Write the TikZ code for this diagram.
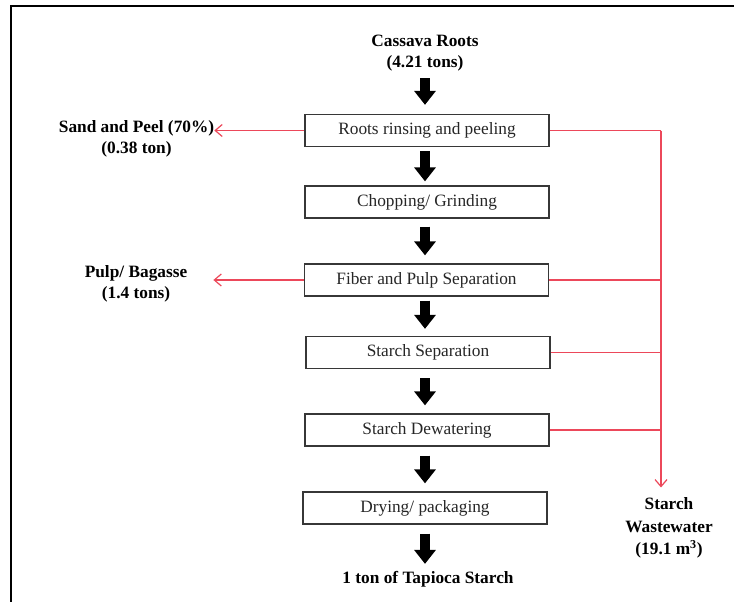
\documentclass[tikz,border=0pt]{standalone}
\usepackage{fontspec}
\setmainfont{Liberation Serif}
\usetikzlibrary{arrows.meta}
\definecolor{redline}{RGB}{236,72,90}
\definecolor{boxline}{RGB}{55,55,55}
\begin{document}
\begin{tikzpicture}[x=1pt,y=-1pt,
  stepbox/.style={draw=boxline, line width=1.3pt, minimum width=244pt, minimum height=32pt, inner sep=0pt, font=\fontsize{17.3}{20}\selectfont, text=black!85},
  lbl/.style={font=\bfseries\fontsize{17.3}{21}\selectfont, align=center, inner sep=0pt},
  blk/.style={line width=10pt, -{Triangle[width=21pt,length=14pt]}},
  waste/.style={draw=redline, line width=1.2pt},
  wastearrow/.style={waste, -{Straight Barb[length=7pt,width=12pt]}}]
\useasboundingbox (0,0) rectangle (734,602);
\fill[white] (0,0) rectangle (734,602);
% frame
\draw[line width=2pt] (11,602) -- (11,6) -- (734,6);
\coordinate (ax) at (425,0);
\coordinate (wx) at (661,0);
% labels
\node[lbl] (cr) at (425,53) {Cassava Roots\\(4.21 tons)};
\node[lbl] (sp) at (136.5,139) {Sand and Peel (70\%)\\(0.38 ton)};
\node[lbl] (pb) at (136,284) {Pulp/ Bagasse\\(1.4 tons)};
\node[lbl, font=\bfseries\fontsize{17.3}{22.5}\selectfont] (sw) at (669,528) {Starch\\Wastewater\\(19.1 m\textsuperscript{3})};
\node[lbl] (ts) at (428,579) {1 ton of Tapioca Starch};
% process boxes
\node[stepbox] (b1) at (427,130.5) {Roots rinsing and peeling};
\node[stepbox] (b2) at (427,202) {Chopping/ Grinding};
\node[stepbox] (b3) at (426.5,280) {Fiber and Pulp Separation};
\node[stepbox] (b4) at (428,352.5) {Starch Separation};
\node[stepbox] (b5) at (427,430) {Starch Dewatering};
\node[stepbox] (b6) at (425,508) {Drying/ packaging};
% main flow arrows
\draw[blk, shorten <=7pt, shorten >=9pt] (cr.south -| ax) -- (b1.north -| ax);
\draw[blk, shorten <=4pt, shorten >=4pt] (b1.south -| ax) -- (b2.north -| ax);
\draw[blk, shorten <=8pt, shorten >=8pt] (b2.south -| ax) -- (b3.north -| ax);
\draw[blk, shorten <=4pt, shorten >=7pt] (b3.south -| ax) -- (b4.north -| ax);
\draw[blk, shorten <=9pt, shorten >=8pt] (b4.south -| ax) -- (b5.north -| ax);
\draw[blk, shorten <=9pt, shorten >=8pt] (b5.south -| ax) -- (b6.north -| ax);
\draw[blk, shorten <=9pt, shorten >=7pt] (b6.south -| ax) -- (ts.north -| ax);
% solid waste outputs
\draw[wastearrow] (b1.west) -- (b1.west -| sp.east);
\draw[wastearrow] (b3.west) -- ([xshift=26pt]b3.west -| pb.east);
% wastewater collection
\draw[waste] (b1.east) -- (b1.east -| wx);
\draw[waste] (b3.east) -- (b3.east -| wx);
\draw[waste] (b4.east) -- (b4.east -| wx);
\draw[waste] (b5.east) -- (b5.east -| wx);
\draw[wastearrow] (b1.east -| wx) -- ([yshift=10pt]sw.north -| wx);
\end{tikzpicture}
\end{document}
